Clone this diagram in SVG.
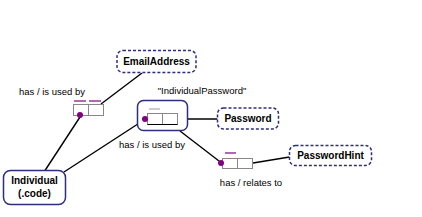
<svg xmlns="http://www.w3.org/2000/svg" width="422" height="217" viewBox="0 0 422 217">
<style>
.ent{fill:#fff;stroke:#2e2e80;stroke-width:1.5}
.val{fill:#fff;stroke:#2e2e80;stroke-width:1.5;stroke-dasharray:3 2}
.name{font-family:"Liberation Sans",Arial,sans-serif;font-weight:bold;font-size:10px;fill:#000;text-anchor:middle}
.lbl{font-family:"Liberation Sans",Arial,sans-serif;font-size:9.5px;fill:#000;text-anchor:middle}
.cell{fill:#fff;stroke:#888;stroke-width:1}
.conn{stroke:#000;stroke-width:1.4;fill:none}
.dot{fill:#800080}
.uc{stroke:#800080;stroke-width:1.2}
.ucg{stroke:#aaa;stroke-width:1.2}
</style>
<rect width="422" height="217" fill="#fff"/>
<g id="connectors">
<line class="conn" x1="142" y1="73" x2="101" y2="104"/>
<line class="conn" x1="80" y1="117" x2="45" y2="170.5"/>
<line class="conn" x1="64" y1="172" x2="144" y2="120"/>
<line class="conn" x1="177" y1="119" x2="217.5" y2="119"/>
<line class="conn" x1="180" y1="131" x2="219" y2="161"/>
<line class="conn" x1="253" y1="163" x2="289.5" y2="157"/>
</g>
<g id="Individual">
<rect class="ent" x="3.5" y="170.5" width="62" height="34" rx="7"/>
<text class="name" x="34.5" y="184">Individual</text>
<text class="name" x="34.5" y="197">(.code)</text>
</g>
<g id="EmailAddress">
<rect class="val" x="117" y="50.5" width="79" height="22" rx="6"/>
<text class="name" x="156.5" y="65">EmailAddress</text>
</g>
<g id="Password">
<rect class="val" x="217.5" y="108" width="61" height="21" rx="6"/>
<text class="name" x="248" y="122">Password</text>
</g>
<g id="PasswordHint">
<rect class="val" x="289.5" y="145.5" width="82" height="20" rx="6"/>
<text class="name" x="330.5" y="159">PasswordHint</text>
</g>
<g id="IndividualHasEmailAddress">
<rect class="cell" x="73.5" y="104.5" width="15" height="11"/>
<rect class="cell" x="88.5" y="104.5" width="15" height="11"/>
<line class="uc" x1="74" y1="101" x2="86" y2="101"/>
<line class="uc" x1="89" y1="101" x2="101" y2="101"/>
<circle class="dot" cx="80" cy="115" r="3"/>
<text class="lbl" x="52" y="95">has / is used by</text>
</g>
<g id="IndividualPassword">
<rect class="ent" x="137.5" y="100.5" width="50" height="30" rx="6"/>
<rect class="cell" x="147.5" y="113.5" width="15" height="11"/>
<rect class="cell" x="162.5" y="113.5" width="15" height="11"/>
<line x1="147.5" y1="124.5" x2="177.5" y2="124.5" stroke="#000" stroke-width="1"/>
<line class="ucg" x1="149" y1="109" x2="160" y2="109"/>
<circle class="dot" cx="145" cy="119" r="3"/>
<text class="lbl" x="202" y="94">"IndividualPassword"</text>
<text class="lbl" x="152" y="148">has / is used by</text>
</g>
<g id="PasswordHasPasswordHint">
<rect class="cell" x="222.5" y="158.5" width="15" height="10"/>
<rect class="cell" x="237.5" y="158.5" width="15" height="10"/>
<line class="uc" x1="225" y1="153" x2="236" y2="153"/>
<circle class="dot" cx="221" cy="163" r="3"/>
<text class="lbl" x="251" y="186">has / relates to</text>
</g>
</svg>
